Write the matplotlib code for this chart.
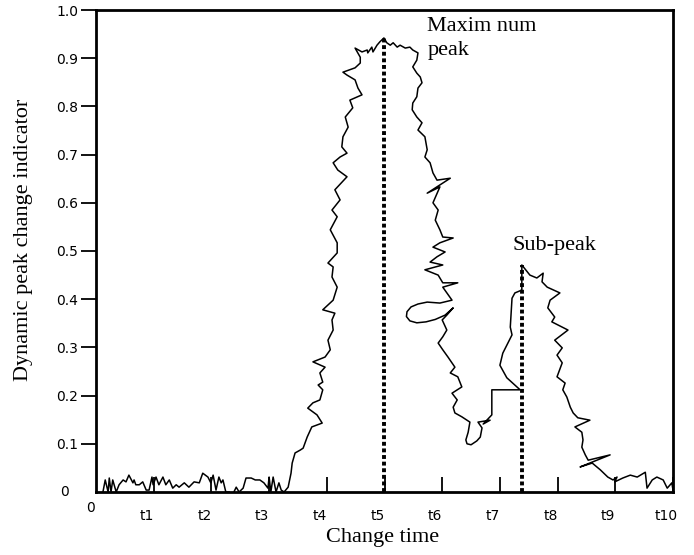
import numpy as np
import matplotlib
matplotlib.use("Agg")
import matplotlib.pyplot as plt
from matplotlib.transforms import ScaledTranslation

# low noise before the rise
base_x = [0.12,0.16,0.21,0.23,0.26,0.29,0.35,0.40,0.47,0.52,0.57,0.64,0.66,0.69,0.75,0.81,0.87,0.92,
          0.97,0.99,1.04,1.09,1.16,1.21,1.27,1.33,1.39,1.44,1.53,1.61,1.70,1.79,1.85,1.94,1.99,2.03,
          2.08,2.13,2.17,2.20,2.25,2.31,2.36,2.39,2.43,2.48,2.55,2.60,2.69,2.76,2.84,2.91,2.98,3.00,
          3.03,3.07,3.12,3.17,3.21,3.26,3.33]
base_y = [0.000,0.025,0.000,0.029,0.000,0.025,0.000,0.015,0.025,0.021,0.035,0.019,0.025,0.015,0.015,
          0.021,0.004,0.004,0.031,0.015,0.031,0.015,0.031,0.015,0.025,0.008,0.015,0.010,0.019,0.010,
          0.021,0.019,0.039,0.031,0.019,0.035,0.004,0.031,0.019,0.025,0.000,0.000,-0.012,0.000,0.010,
          0.000,0.008,0.029,0.029,0.025,0.025,0.019,0.008,0.031,0.000,0.031,0.000,0.019,0.004,0.000,
          0.010]

# rise up to the maximum peak
rise_x = [3.38,3.40,3.45,3.54,3.59,3.66,3.74,3.92,3.83,3.67,3.76,3.88,3.93,3.85,3.93,3.88,3.97,3.76,
          3.97,4.06,4.02,4.11,4.09,4.14,3.93,4.11,4.18,4.09,4.11,4.02,4.18,4.18,4.06,4.18,4.09,4.23,
          4.14,4.35,4.19,4.11,4.23,4.35,4.26,4.28,4.37,4.32,4.45,4.40,4.61,4.54,4.49,4.35,4.28,4.49,
          4.58,4.58,4.49,4.61,4.70,4.71,4.78,4.80,4.87,4.92,4.99]
rise_y = [0.039,0.060,0.081,0.087,0.091,0.114,0.135,0.143,0.160,0.174,0.185,0.191,0.212,0.222,0.228,
          0.247,0.259,0.270,0.280,0.295,0.315,0.336,0.357,0.371,0.378,0.398,0.425,0.446,0.467,0.475,
          0.496,0.517,0.544,0.571,0.585,0.606,0.627,0.654,0.668,0.683,0.695,0.703,0.716,0.737,0.757,
          0.778,0.797,0.813,0.824,0.838,0.855,0.865,0.871,0.880,0.890,0.902,0.921,0.913,0.917,0.911,
          0.923,0.913,0.927,0.934,0.942]

# fall after the peak, down to the valley and up to the sub-peak
fall_x = [5.04,5.10,5.15,5.22,5.27,5.36,5.44,5.49,5.58,5.56,5.49,5.56,5.62,5.65,5.58,5.56,5.49,5.48,
          5.56,5.65,5.58,5.70,5.74,5.70,5.79,5.84,5.91,6.14,5.74,5.96,5.84,5.93,5.88,5.96,6.01,6.19,
          5.96,5.84,6.05,5.91,5.79,6.01,5.70,5.93,6.01,6.27,6.01,6.17,5.96,5.74,5.58,5.46,5.39,5.38,
          5.44,5.56,5.72,5.88,6.05,6.19,6.08,6.00,6.08,6.01,5.93,6.01,6.10,6.22,6.14,6.27,6.34,6.17,
          6.26,6.19,6.22,6.34,6.48,6.45,6.41,6.43,6.50,6.60,6.66,6.69,6.62,6.83,6.71,6.86,6.86,7.35,
          7.12,7.00,7.05,7.21,7.18,7.21,7.26,7.38,7.38]
fall_y = [0.932,0.927,0.932,0.923,0.927,0.921,0.923,0.917,0.911,0.896,0.882,0.869,0.861,0.849,0.838,
          0.820,0.807,0.793,0.778,0.766,0.751,0.737,0.710,0.695,0.683,0.662,0.647,0.651,0.620,0.633,
          0.600,0.585,0.564,0.544,0.529,0.527,0.517,0.508,0.498,0.488,0.477,0.471,0.461,0.450,0.434,
          0.434,0.425,0.398,0.392,0.394,0.390,0.384,0.374,0.364,0.355,0.351,0.353,0.358,0.367,0.382,
          0.367,0.357,0.336,0.322,0.309,0.295,0.280,0.259,0.247,0.239,0.218,0.205,0.191,0.176,0.164,
          0.156,0.145,0.124,0.108,0.100,0.098,0.106,0.114,0.133,0.145,0.149,0.141,0.160,0.212,0.212,
          0.237,0.263,0.288,0.326,0.342,0.402,0.413,0.419,0.471]

# tail after the sub-peak
tail_x = [7.52,7.64,7.75,7.73,7.82,8.04,7.87,7.83,7.95,7.90,8.18,7.95,8.08,7.99,8.08,7.99,8.13,8.09,
          8.16,8.22,8.27,8.35,8.56,8.30,8.42,8.44,8.42,8.48,8.53,8.91,8.39,8.60,8.74,8.87,8.96,9.03,
          8.99,9.13,9.26,9.38,9.52,9.55,9.64,9.72,9.83,9.90,9.98,10.0]
tail_y = [0.450,0.444,0.454,0.436,0.425,0.413,0.398,0.382,0.363,0.353,0.336,0.315,0.299,0.284,0.268,
          0.239,0.226,0.212,0.197,0.176,0.164,0.154,0.149,0.135,0.124,0.108,0.093,0.077,0.066,0.077,
          0.052,0.060,0.046,0.031,0.025,0.031,0.021,0.029,0.035,0.031,0.041,0.008,0.025,0.031,0.025,
          0.008,0.019,0.004]

peak_t, peak_val = 4.99, 0.942
sub_t, sub_val = 7.38, 0.471

x_ticks = [1, 2, 3, 4, 5, 6, 7, 8, 9, 10]
x_labels = ["t1", "t2", "t3", "t4", "t5", "t6", "t7", "t8", "t9", "t10"]
y_ticks = [0.1, 0.2, 0.3, 0.4, 0.5, 0.6, 0.7, 0.8, 0.9, 1.0]
y_labels = ["0.1", "0.2", "0.3", "0.4", "0.5", "0.6", "0.7", "0.8", "0.9", "1.0"]

xs = base_x + rise_x + fall_x + tail_x
ys = base_y + rise_y + fall_y + tail_y

serif = "Liberation Serif"

fig = plt.figure(figsize=(6.94, 5.55), dpi=100)
ax = fig.add_axes([96/694, 63/555, 577/694, 482/555])

ax.plot(xs, ys, color="black", lw=1.1, solid_joinstyle="round")
ax.plot([peak_t, peak_t], [0, peak_val], color="black", lw=2.8, linestyle=(0, (1, 0.7)))
ax.plot([sub_t, sub_t], [0, sub_val], color="black", lw=2.8, linestyle=(0, (1, 0.7)))

ax.set_xlim(0, 10)
ax.set_ylim(0, 1.0)

for s in ax.spines.values():
    s.set_linewidth(2)

ax.set_xticks(x_ticks)
ax.set_xticklabels(x_labels, fontsize=10)
ax.set_yticks(y_ticks)
ax.set_yticklabels(y_labels, fontsize=10)
ax.tick_params(axis="x", direction="in", length=11, width=1.3, pad=12)
ax.tick_params(axis="y", direction="out", length=11, width=1.3, pad=2)

shift = ScaledTranslation(-7/100, 0, fig.dpi_scale_trans)
for lab in ax.get_xticklabels():
    lab.set_transform(lab.get_transform() + shift)

ax.text(-0.54, 0.0, "0", fontsize=10, ha="center", va="center", clip_on=False)
ax.text(-0.10, -0.033, "0", fontsize=10, ha="center", va="center", clip_on=False)

ax.text(5.74, 0.985, "Maxim num\npeak", family=serif, fontsize=16, ha="left", va="top",
        linespacing=1.35)
ax.text(7.22, 0.512, "Sub-peak", family=serif, fontsize=16, ha="left", va="center")

ax.set_xlabel("Change time", family=serif, fontsize=16)
ax.set_ylabel("Dynamic peak change indicator", family=serif, fontsize=16)
ax.xaxis.set_label_coords(0.497, -0.075)
ax.yaxis.set_label_coords(-0.109, 0.523)

fig.savefig("out.png", dpi=100)
